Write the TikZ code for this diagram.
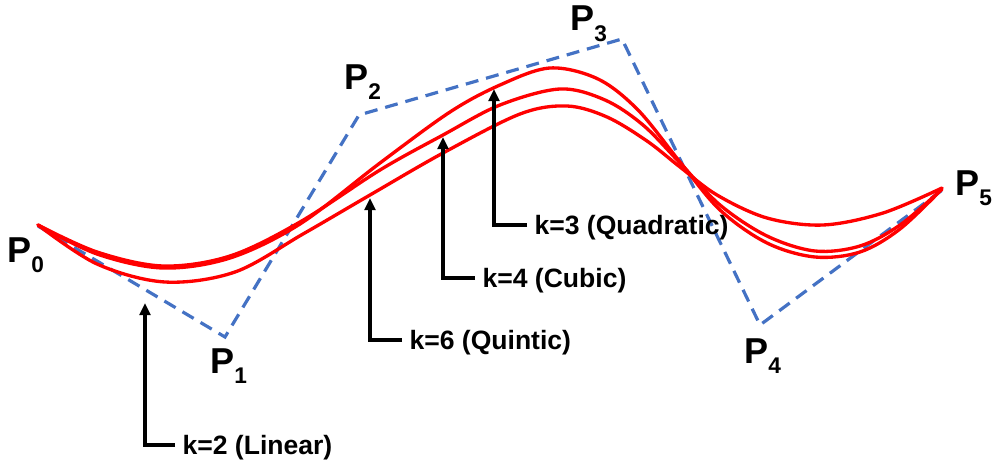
\documentclass[tikz,border=0pt]{standalone}
\usepackage{fontspec}
\setmainfont{Liberation Sans}
\usetikzlibrary{arrows.meta}
\newcommand{\Plab}[1]{{\fontsize{27}{27}\selectfont\bfseries P}\raisebox{-7.5pt}{\fontsize{17}{17}\selectfont\bfseries #1}}
\begin{document}
\begin{tikzpicture}[x=0.75pt,y=-0.75pt,
  ctrl/.style={draw={rgb,255:red,68;green,114;blue,196},line width=2.4pt,dash pattern=on 9.75pt off 6pt},
  spl/.style={draw=red,line width=2.5pt,line cap=round,line join=round},
  arr/.style={draw=black,line width=2.3pt,-{Triangle[length=9pt,width=8pt]}},
  klab/.style={font=\fontsize{19.9}{20}\selectfont\bfseries,text height=14.2pt,text depth=0pt,inner xsep=5.5pt,inner ysep=0pt,anchor=west},
  plab/.style={inner sep=0pt,anchor=base west}]
\useasboundingbox (0,0) rectangle (998,464);
% control points
\coordinate (P0) at (38,226);
\coordinate (P1) at (225,337);
\coordinate (P2) at (359,115);
\coordinate (P3) at (622,39);
\coordinate (P4) at (760,325);
\coordinate (P5) at (945,188);
\draw[ctrl] (P0) -- (P1) -- (P2) -- (P3) -- (P4) -- (P5);
% k=6 (Quintic)
\draw[spl] plot[smooth,tension=0.55] coordinates {(38,225) (97,264) (165,282) (235,272) (303,234) (370,195) (443,153) (520,114) (567,106) (607,117) (647,141) (680,167) (717,195) (767,218) (823,225) (883,213) (942,188)};
% k=4 (Cubic)
\draw[spl] plot[smooth,tension=0.55] coordinates {(38,225) (97,252) (163,266) (230,256) (300,222) (380,170) (443,135) (500,105) (560,89) (605,100) (643,125) (680,163) (720,205) (767,236) (815,251) (860,246) (900,225) (942,189)};
% k=3 (Quadratic)
\draw[spl] plot[smooth,tension=0.55] coordinates {(38,225) (97,254) (163,268) (230,258) (300,224) (380,163) (450,112) (500,85) (550,68) (598,79) (638,110) (680,162) (720,210) (767,243) (815,257) (860,252) (900,229) (942,189)};
% point labels
\node[plab] (L0) at (7,262) {\Plab{0}};
\node[plab] (L1) at (210,373) {\Plab{1}};
\node[plab] (L2) at (344,89) {\Plab{2}};
\node[plab] (L3) at (570,31) {\Plab{3}};
\node[plab] (L4) at (744,363) {\Plab{4}};
\node[plab] (L5) at (955,195) {\Plab{5}};
% arrow targets
\coordinate (t2) at (145,303);
\coordinate (t6) at (370,198);
\coordinate (t4) at (443,137);
\coordinate (t3) at (494,89);
% labels
\node[klab] (k2) at (175,445) {k=2 (Linear)};
\node[klab] (k6) at (402,340) {k=6 (Quintic)};
\node[klab] (k4) at (475,278) {k=4 (Cubic)};
\node[klab] (k3) at (527,225) {k=3 (Quadratic)};
\draw[arr] (k2.west) -| (t2);
\draw[arr] (k6.west) -| (t6);
\draw[arr] (k4.west) -| (t4);
\draw[arr] (k3.west) -| (t3);
\end{tikzpicture}
\end{document}
